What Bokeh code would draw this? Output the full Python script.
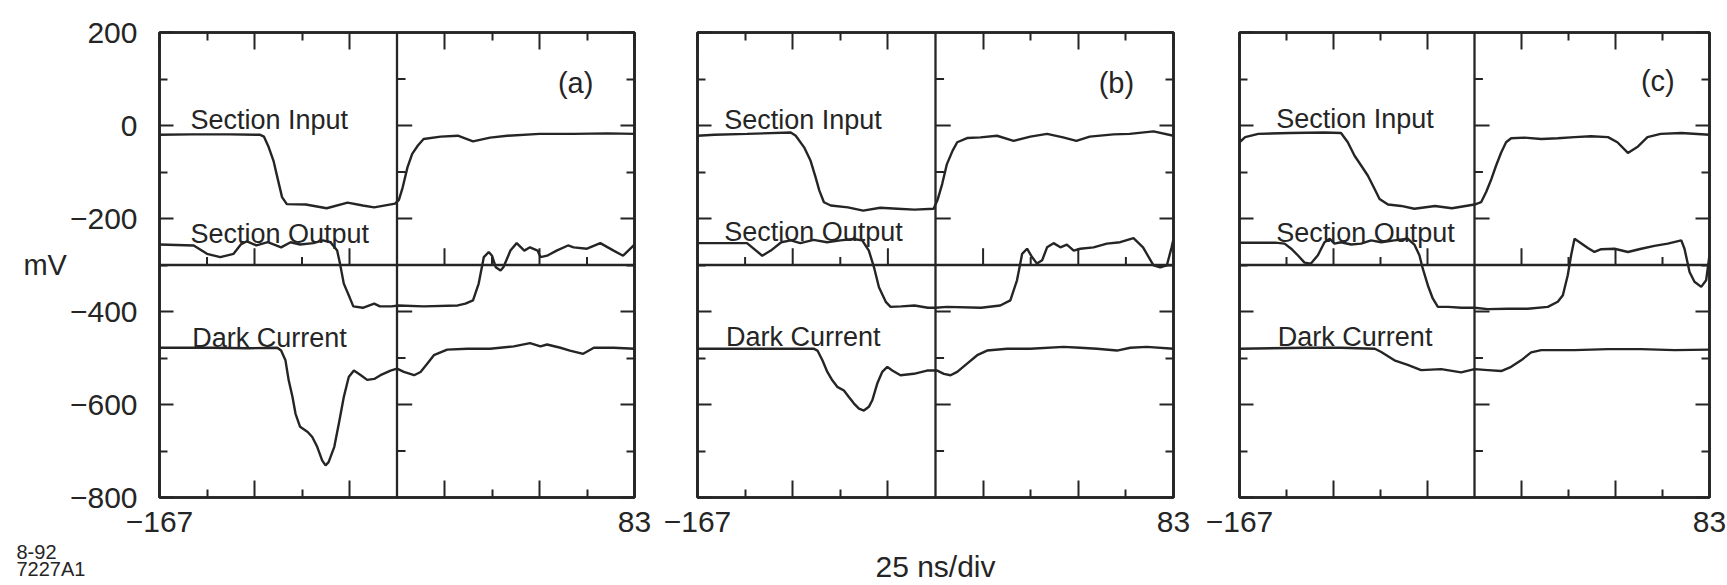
import numpy as np
from bokeh.plotting import figure
from bokeh.models import LinearAxis, FixedTicker, Range1d, Label, Span, Title
from bokeh.layouts import row
from bokeh.embed import file_html
from bokeh.resources import INLINE

# ---------------- axes / scale definitions ----------------
X_MIN, X_MAX = -167, 83          # ns
Y_MIN, Y_MAX = -800, 200         # mV
X_MAJOR = [-167, -117, -67, -17, 33, 83]
X_MINOR = [-142, -92, 8, 58]
Y_MAJOR = [200, 0, -200, -400, -600, -800]
Y_MINOR = [100, -100, -300, -500, -700]
X_TICK_LABELS = {-167: "\u2212167", 83: "83"}
Y_TICK_LABELS = {200: "200", 0: "0", -200: "\u2212200", -400: "\u2212400",
                 -600: "\u2212600", -800: "\u2212800"}
CENTER_T = (X_MIN + X_MAX) / 2   # centre division line
BASE_MV = -300                   # horizontal reference line

# ---------------- panel (a) ----------------
t_in_a = [-167, -150, -130, -114, -112, -109.5, -107, -105, -102.5, -100, -90, -79, -68, -60, -54, -43,
          -41, -39, -36.5, -34, -31, -28, -19, -10, -2, 7, 16, 33, 51, 69, 83]
v_in_a = [-20, -19, -19, -20, -24, -47, -76, -111, -154, -169, -170, -178, -166, -172, -176, -168,
          -160, -133, -90, -61, -43, -29, -24, -22, -34, -26, -22, -18, -18, -17, -18]
t_out_a = [-167, -149, -142, -135, -128, -124, -121, -116, -110, -103, -98, -93, -86, -81, -77, -73.5,
           -72, -70, -67, -65, -60, -54, -51, -45, -41, -28, -10, -6, -2, 1, 3.7, 6.3, 8, 10, 12.5, 14,
           17.7, 21, 25, 28, 32, 33.5, 37, 42, 48, 51, 58, 65, 72, 77, 83]
v_out_a = [-256, -258, -276, -283, -276, -255, -249, -258, -251, -262, -251, -256, -253, -247, -251, -269,
           -297, -340, -369, -389, -392, -383, -389, -389, -387, -389, -387, -383, -376, -340, -283, -272,
           -280, -305, -312, -305, -269, -253, -269, -262, -269, -283, -280, -269, -258, -262, -265, -253,
           -269, -280, -256]
t_dc_a = [-167, -140, -120, -105, -103, -100.7, -99, -97, -95.4, -93, -89, -86.6, -84, -81.4, -79.6, -78,
          -75, -72.6, -70, -67.4, -64.7, -61, -57.7, -54, -50.7, -45.4, -42, -38.4, -33, -29.6, -26,
          -22.6, -15.6, -5, 7, 19.5, 28, 33.5, 37, 44, 49, 56, 61.6, 72, 83]
v_dc_a = [-478, -478, -479, -478, -484, -505, -548, -584, -620, -648, -659, -670, -691, -720, -731, -724,
          -691, -641, -584, -541, -527, -537, -547, -545, -537, -527, -523, -530, -537, -530, -512,
          -494, -482, -480, -480, -475, -468, -475, -471, -478, -484, -491, -478, -478, -480]

# ---------------- panel (b) ----------------
t_in_b = [-167, -158, -141, -118, -115.4, -111, -107.6, -105, -103, -100.6, -97, -88, -80, -71, -62, -53,
          -43, -41, -38.5, -36, -33, -30.6, -25.4, -18.4, -9.7, -1, 7.8, 16.6, 25, 32, 39, 51.5, 60,
          72.5, 83]
v_in_b = [-22, -20, -18, -15, -22, -47, -76, -111, -140, -165, -172, -176, -183, -177, -179, -181,
          -179, -161, -126, -83, -54, -36, -27, -25.5, -22, -33, -24, -18, -25.5, -33, -24, -19, -18,
          -12.6, -22]
t_out_b = [-167, -141, -133, -128.5, -123, -118, -113, -106, -99, -92, -85, -80.5, -77, -74.3, -71.7,
           -68, -65.6, -60, -53, -46, -42, -36, -18, -8, -2.7, 0.8, 3.5, 6.1, 8.7, 11.3, 14, 16.6, 20,
           23.6, 27, 30.6, 34, 41, 48, 55, 62, 67, 72.5, 76, 79.5, 82, 83]
v_out_b = [-253, -253, -280, -269, -251, -247, -253, -246, -251, -247, -244, -247, -269, -305, -348,
           -380, -390, -389, -387, -392, -392, -390, -392, -387, -376, -333, -276, -265, -283, -297,
           -290, -262, -253, -262, -256, -269, -265, -262, -254, -251, -242, -262, -301, -305, -301,
           -262, -244]
t_dc_b = [-167, -130, -106, -104, -101.4, -98.8, -96.2, -93.6, -90.1, -87.5, -84.8, -82.2, -79.6, -77,
          -75.2, -72.6, -70, -67.3, -64.7, -60.4, -53.4, -46.4, -41.1, -37.6, -34.1, -30.6, -25.4,
          -20.1, -14.9, -4.4, 7.8, 25.3, 34, 42.8, 53.3, 60.3, 69, 83]
v_dc_b = [-480, -480, -480, -484, -505, -530, -548, -562, -570, -584, -598, -609, -613, -605, -591,
          -555, -530, -519, -527, -537, -534, -527, -527, -534, -537, -530, -512, -494, -484, -480,
          -480, -476, -478, -480, -484, -478, -476, -480]

# ---------------- panel (c) ----------------
t_in_c = [-167, -164, -157, -140, -122, -113, -109.4, -105.8, -102.3, -98.7, -95.2, -92.5, -88, -81,
          -74, -63, -54, -42, -38.5, -35.8, -33, -30.5, -27.8, -25.2, -22.5, -15.4, -6.5, 2.3, 11.2,
          20, 29, 34, 39.6, 45, 50, 57, 68, 83]
v_in_c = [-36, -25, -18, -16, -15, -16, -36, -65, -86, -108, -136, -158, -170, -173, -179, -173, -178,
          -170, -165, -143, -115, -86, -58, -36, -27.5, -26, -29, -27.5, -25, -23, -25, -36, -59, -45,
          -25, -18, -16, -20]
t_out_c = [-167, -148, -143, -139.5, -136, -132.4, -129, -125.3, -121.8, -119, -116.5, -113, -107.6,
           -102.3, -97, -91.6, -84.6, -77.5, -74, -71.3, -69.5, -66.8, -64.2, -61.5, -56, -49, -42,
           -35, -24, -13.6, -3, 2.3, 5, 7.6, 9.4, 11.2, 13.9, 18.3, 21.8, 25.4, 32.5, 39.6, 46.7,
           53.7, 60.8, 68, 69.7, 72.4, 75, 78.6, 81.2, 83]
v_out_c = [-252, -252, -254, -265, -279, -295, -297, -279, -251, -243.5, -254, -251, -256, -254, -247,
           -251, -247, -243.5, -256, -279, -308, -344, -372, -390, -390, -392, -392, -395, -394, -394,
           -390, -379, -365, -322, -279, -243.5, -251, -263.5, -272, -266, -265, -272, -265, -259,
           -254, -247, -265, -315, -336, -347, -333, -279]
t_dc_c = [-167, -131, -113, -95, -91.6, -84.6, -77.5, -70.4, -59.7, -49.1, -42, -34.9, -27.8, -22.5,
          -17.2, -11.9, -6.5, 11.2, 28.9, 46.7, 64.4, 83]
v_dc_c = [-480, -478, -478, -480, -487, -505, -515, -526, -524, -531, -524, -526, -528, -519, -505,
          -488, -483, -483, -481, -481, -483, -482]

TRACE_NAMES = ["Section Input", "Section Output", "Dark Current"]
Y_UNIT = "mV"
X_SCALE_NOTE = "25 ns/div"
FIG_ID = "8-92\n7227A1"

INK = "#252525"
FONT = "Liberation Sans"


def add_axis(p, loc, dim, labels=None, standoff=0):
    ticks = X_MAJOR if dim == 0 else Y_MAJOR
    minors = X_MINOR if dim == 0 else Y_MINOR
    ax = LinearAxis(ticker=FixedTicker(ticks=ticks, minor_ticks=minors))
    ax.major_tick_in = 17 if dim == 0 else 14
    ax.major_tick_out = 0
    ax.minor_tick_in = 8
    ax.minor_tick_out = 0
    ax.axis_line_color = INK
    ax.axis_line_width = 2.6
    ax.major_tick_line_color = INK
    ax.major_tick_line_width = 2
    ax.minor_tick_line_color = INK
    ax.minor_tick_line_width = 2
    lab = labels or {}
    ax.major_label_overrides = {t: lab.get(t, "") for t in ticks}
    ax.major_label_text_font = FONT
    ax.major_label_text_font_size = "30px"
    ax.major_label_text_color = INK
    ax.major_label_standoff = standoff
    ax.axis_label_text_font = FONT
    ax.axis_label_text_font_style = "normal"
    ax.axis_label_text_color = INK
    p.add_layout(ax, loc)
    return ax


def make_panel(series, text_pos, tag, tag_pos, width, b_left, b_right, y_labels):
    p = figure(width=width, height=585,
               x_range=Range1d(X_MIN, X_MAX), y_range=Range1d(Y_MIN, Y_MAX),
               output_backend="svg", toolbar_location=None,
               x_axis_location=None, y_axis_location=None,
               min_border_left=b_left, min_border_right=b_right,
               min_border_top=32, min_border_bottom=88,
               background_fill_color="white", border_fill_color="white",
               outline_line_color=INK, outline_line_width=2.6)
    for g in p.grid:
        g.visible = False

    axes = {}
    axes["below"] = add_axis(p, "below", 0, X_TICK_LABELS, standoff=14)
    add_axis(p, "above", 0)
    axes["left"] = add_axis(p, "left", 1, Y_TICK_LABELS if y_labels else None,
                            standoff=22 if y_labels else 0)
    add_axis(p, "right", 1)

    p.add_layout(Span(location=CENTER_T, dimension="height", line_color=INK, line_width=2.3))
    p.add_layout(Span(location=BASE_MV, dimension="width", line_color=INK, line_width=2.3))

    # division ticks on the horizontal reference line (pointing up)
    long_x = X_MAJOR[1:-1]
    p.segment(x0=long_x, y0=[BASE_MV] * len(long_x), x1=long_x,
              y1=[BASE_MV + 36] * len(long_x), line_color=INK, line_width=2)
    p.segment(x0=X_MINOR, y0=[BASE_MV] * len(X_MINOR), x1=X_MINOR,
              y1=[BASE_MV + 17] * len(X_MINOR), line_color=INK, line_width=2)
    # division ticks on the centre line (pointing right)
    my = Y_MAJOR[1:-1]
    p.segment(x0=[CENTER_T] * len(my), y0=my, x1=[CENTER_T + 8] * len(my), y1=my,
              line_color=INK, line_width=2)
    p.segment(x0=[CENTER_T] * len(Y_MINOR), y0=Y_MINOR, x1=[CENTER_T + 4.5] * len(Y_MINOR),
              y1=Y_MINOR, line_color=INK, line_width=2)

    for (t, v) in series:
        p.line(t, v, line_color=INK, line_width=2.4)

    for name, (tx, ty) in zip(TRACE_NAMES, text_pos):
        p.add_layout(Label(x=tx, y=ty, text=name, text_font=FONT, text_font_size="27px",
                           text_color=INK, text_align="left", text_baseline="alphabetic"))
    p.add_layout(Label(x=tag_pos[0], y=tag_pos[1], text=tag, text_font=FONT,
                       text_font_size="29px", text_color=INK, text_align="center",
                       text_baseline="middle"))
    return p, axes


pa, axa = make_panel([(t_in_a, v_in_a), (t_out_a, v_out_a), (t_dc_a, v_dc_a)],
                     [(-150.7, 12), (-150.7, -233), (-149.8, -456)], "(a)", (52, 92),
                     660, 159, 26, True)
pb, axb = make_panel([(t_in_b, v_in_b), (t_out_b, v_out_b), (t_dc_b, v_dc_b)],
                     [(-153, 12), (-153, -229), (-152, -455)], "(b)", (53, 92),
                     540, 37, 27, False)
pc, axc = make_panel([(t_in_c, v_in_c), (t_out_c, v_out_c), (t_dc_c, v_dc_c)],
                     [(-147.5, 13), (-147.5, -231), (-146.6, -455)], "(c)", (55.5, 95),
                     527, 39, 18, False)

# "mV" unit label on the left axis of panel (a), written horizontally
ya = axa["left"]
ya.axis_label = Y_UNIT
ya.axis_label_text_font_size = "29px"
ya.axis_label_standoff = 0
if "axis_label_orientation" in ya.properties():
    ya.axis_label_orientation = "horizontal"

# time-base note under the middle panel
xb = axb["below"]
xb.axis_label = X_SCALE_NOTE
xb.axis_label_text_font_size = "30px"
xb.axis_label_standoff = 15

# figure identifier at the bottom-left corner
pa.add_layout(Title(text=FIG_ID, align="left", offset=-143, standoff=9,
                    text_font=FONT, text_font_size="20px", text_font_style="normal",
                    text_color=INK, text_line_height=0.78), "below")

layout = row(pa, pb, pc, spacing=0)
open("out.html", "w").write(file_html(layout, INLINE))
